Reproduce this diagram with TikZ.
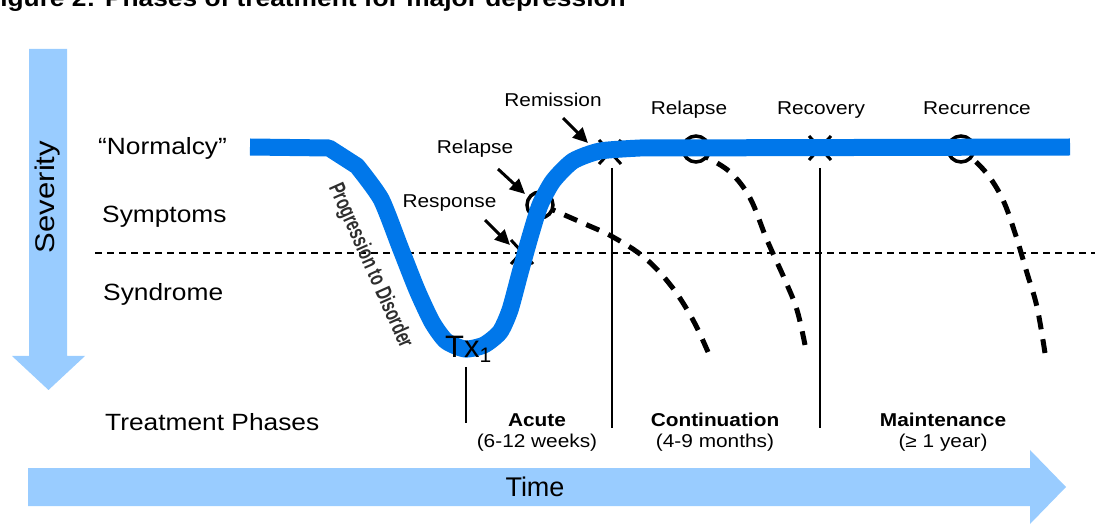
\documentclass[tikz,border=0pt]{standalone}
\usepackage{fontspec}
\setmainfont{Liberation Sans}
\usetikzlibrary{arrows.meta}
\definecolor{lightblue}{HTML}{99CCFF}
\definecolor{curveblue}{HTML}{0077EA}
\definecolor{progray}{HTML}{2E2E2E}
\newcommand\stretchtxt[1]{\scalebox{1.12}[1]{#1}}
\begin{document}
\begin{tikzpicture}[x=1pt,y=-1pt,
  lbl/.style={font=\fontsize{23.5}{28}\selectfont, inner sep=0pt, anchor=base west},
  small/.style={font=\fontsize{18.6}{22}\selectfont, inner sep=0pt, anchor=base},
  phase/.style={font=\bfseries\fontsize{18.6}{22}\selectfont, inner sep=0pt, anchor=base},
  ptr/.style={line width=3pt, -{Triangle[length=15pt,width=14pt]}},
  xmark/.style={line width=3pt},
  ring/.style={line width=3.5pt},
  thin/.style={line width=1.2pt},
  fall/.style={line width=5pt, dash pattern=on 14pt off 10pt},
  level/.style={line width=1.5pt, dash pattern=on 7pt off 5pt},
  axisarrow/.style={fill=lightblue, draw=none}
]
\useasboundingbox (0,0) rectangle (1104,529);

% title (cut at top)
\node[anchor=base west, inner sep=0pt, font=\bfseries\fontsize{23.5}{28}\selectfont] (title) at (-16,7) {\stretchtxt{Figure 2: Phases of treatment for major depression}};

% axis arrows
\fill[axisarrow] (29,49) -- (67,49) -- (67,356) -- (85,356) -- (48.5,390) -- (12,356) -- (29,356) -- cycle;
\node[rotate=90, inner sep=0pt, font=\fontsize{27}{30}\selectfont] (severity) at (48,197) {\scalebox{1.15}[1]{Severity}};
\fill[axisarrow] (28,468) -- (1030,468) -- (1030,450) -- (1066,487) -- (1030,524) -- (1030,506) -- (28,506) -- cycle;
\node[inner sep=0pt, font=\fontsize{27}{30}\selectfont] (time) at (535,487) {Time};

% left labels
\node[lbl] (normalcy) at (98,155) {\stretchtxt{“Normalcy”}};
\node[lbl] (symptoms) at (102,223) {\stretchtxt{Symptoms}};
\node[lbl] (syndrome) at (103,301) {\stretchtxt{Syndrome}};
\node[lbl] (phases) at (105,431) {\stretchtxt{Treatment Phases}};

% threshold line
\coordinate (thrL) at (95,253);
\coordinate (thrR) at (1095,253);
\draw[level] (thrL) -- (thrR);

% phase separators
\coordinate (s0t) at (466,367); \coordinate (s0b) at (466,423);
\coordinate (s1t) at (612,168); \coordinate (s1b) at (612,428);
\coordinate (s2t) at (820,168); \coordinate (s2b) at (820,428);
\draw[thin] (s0t) -- (s0b);
\draw[thin] (s1t) -- (s1b);
\draw[thin] (s2t) -- (s2b);

% phase labels
\node[phase] (acute) at (537,427) {\stretchtxt{Acute}};
\node[small] (acuteT) at (537,447) {\stretchtxt{(6-12 weeks)}};
\node[phase] (cont) at (715,427) {\stretchtxt{Continuation}};
\node[small] (contT) at (715,447) {\stretchtxt{(4-9 months)}};
\node[phase] (maint) at (943,427) {\stretchtxt{Maintenance}};
\node[small] (maintT) at (943,447) {\stretchtxt{(≥ 1 year)}};

% markers: X and circles
\coordinate (xresp) at (522,252);
\coordinate (xrem) at (610,152);
\coordinate (xrec) at (820,148);
\foreach \p in {xresp,xrem,xrec}{
  \draw[xmark] ([shift={(-11,-12)}]\p) -- ([shift={(11,12)}]\p);
  \draw[xmark] ([shift={(11,-12)}]\p) -- ([shift={(-11,12)}]\p);
}
\coordinate (crel1) at (540,205);
\coordinate (crel2) at (696,149);
\coordinate (crecur) at (961,149);
\draw[ring] (crel1) circle (13);
\draw[ring] (crel2) circle (13);
\draw[ring] (crecur) circle (13);

% falling dashed curves (drawn from the bottom end up)
\draw[fall] plot[smooth, tension=0.6] coordinates {(708,352) (693,320) (672,287) (645,258) (613,237) (585,224) (553,210)};
\draw[fall] plot[smooth, tension=0.6] coordinates {(805,345) (797,310) (785,280) (767,240) (750,198) (730,172) (706,157)};
\draw[fall] plot[smooth, tension=0.6] coordinates {(1045,353) (1037,307) (1027,273) (1015,233) (1003,200) (988,175) (971,157)};

% main course
\draw[curveblue, line width=17pt, line join=round] (250,147) -- (329,148) -- (357,166) -- plot[smooth, tension=0.4] coordinates {(357,166) (381,199) (400,247) (417,290) (432,322) (446,341) (465,349) (484,345) (500,332) (510,310) (520,273) (530,237) (540,205) (553,181) (573,161) (600,151) (640,148)} -- (1070,147);

% Tx1
\node[anchor=base west, inner sep=0pt, font=\fontsize{31}{34}\selectfont] (tx) at (445,358) {Tx\raisebox{-5pt}{\fontsize{21}{22}\selectfont 1}};

% progression text
\node[rotate=-66, inner sep=0pt, text=progray, font=\bfseries\fontsize{22.5}{24}\selectfont] (prog) at (370,266) {\scalebox{0.69}[1]{Progression to Disorder}};

% event labels
\node[small] (remission) at (553,107) {\stretchtxt{Remission}};
\node[small] (relapse1) at (475,154) {\stretchtxt{Relapse}};
\node[small] (response) at (449.5,208) {\stretchtxt{Response}};
\node[small] (relapse2) at (689,115) {\stretchtxt{Relapse}};
\node[small] (recovery) at (821,115) {\stretchtxt{Recovery}};
\node[small] (recurrence) at (977,115) {\stretchtxt{Recurrence}};

\coordinate (aRemS) at (563,118); \coordinate (aRemE) at (588,143);
\coordinate (aRelS) at (498,169); \coordinate (aRelE) at (525,194);
\coordinate (aResS) at (485,220); \coordinate (aResE) at (510,245);
\draw[ptr] (aRemS) -- (aRemE);
\draw[ptr] (aRelS) -- (aRelE);
\draw[ptr] (aResS) -- (aResE);
\end{tikzpicture}
\end{document}
